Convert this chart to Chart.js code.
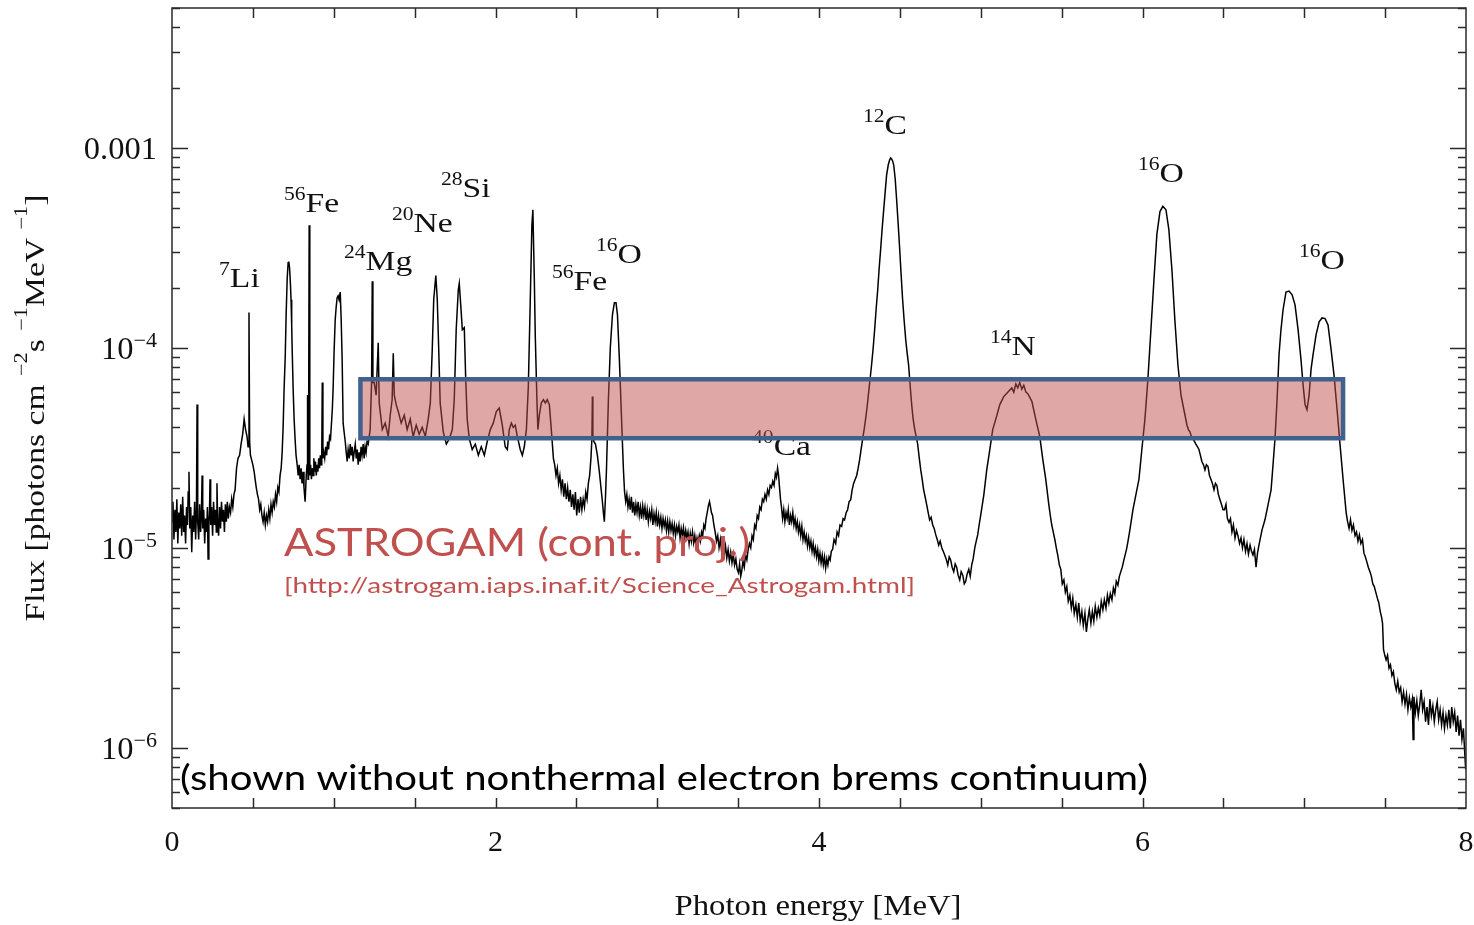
<!DOCTYPE html>
<html>
<head>
<meta charset="utf-8">
<script src="https://cdn.jsdelivr.net/npm/chart.js@4/dist/chart.umd.min.js"></script>
<style>
  html, body { margin: 0; padding: 0; background: #fff; }
  canvas { display: block; }
</style>
</head>
<body>
<canvas id="spectrum" width="1474" height="925"></canvas>
<script>
// gamma-ray line spectrum, energy in MeV, flux in photons cm^-2 s^-1 MeV^-1
// split in a few energy bands so each pair of arrays stays readable

// 0 - 0.5 MeV : noisy continuum, 7Li line
var bandE1 = [0.000,0.006,0.012,0.018,0.024,0.030,0.036,0.042,0.048,0.054,
              0.060,0.066,0.072,0.078,0.084,0.090,0.096,0.100,0.105,0.110,
              0.116,0.122,0.128,0.134,0.140,0.146,0.151,0.155,0.159,0.165,
              0.171,0.177,0.182,0.186,0.190,0.196,0.202,0.208,0.214,0.219,
              0.223,0.228,0.232,0.235,0.239,0.245,0.251,0.257,0.263,0.269,
              0.274,0.278,0.282,0.288,0.294,0.300,0.306,0.312,0.318,0.324,
              0.330,0.336,0.342,0.348,0.355,0.362,0.369,0.376,0.383,0.390,
              0.399,0.408,0.418,0.427,0.437,0.446,0.455,0.464,0.470,0.476,
              0.480,0.485,0.490];
var bandF1 = [1.35e-5,1.7e-5,1.1e-5,1.55e-5,1.2e-5,1.75e-5,1.05e-5,1.5e-5,1.25e-5,1.65e-5,
              1.15e-5,1.8e-5,1.2e-5,1.45e-5,1.05e-5,1.6e-5,1.3e-5,1.9e-5,2.4e-5,1.25e-5,
              1.6e-5,9.5e-6,1.45e-5,1.2e-5,1.7e-5,1.1e-5,1.5e-5,5.2e-5,1.35e-5,1.1e-5,
              1.65e-5,1.2e-5,1.5e-5,2.3e-5,1.25e-5,1.55e-5,1.05e-5,1.4e-5,1.2e-5,1.6e-5,
              8.8e-6,1.35e-5,1.55e-5,2.2e-5,1.3e-5,1.6e-5,1.15e-5,1.7e-5,1.3e-5,1.55e-5,
              1.2e-5,2.1e-5,1.4e-5,1.15e-5,1.6e-5,1.25e-5,1.7e-5,1.35e-5,1.55e-5,1.2e-5,
              1.65e-5,1.35e-5,1.7e-5,1.4e-5,1.6e-5,1.5e-5,1.75e-5,1.6e-5,1.85e-5,1.95e-5,
              2.5e-5,2.8e-5,2.9e-5,3.3e-5,3.7e-5,4.4e-5,3.9e-5,3.6e-5,3.2e-5,1.5e-4,
              3.4e-5,2.9e-5,2.8e-5];

// 0.5 - 1.2 MeV : 56Fe lines
var bandE2 = [0.500,0.508,0.514,0.521,0.528,0.535,0.542,0.549,0.556,0.563,
              0.570,0.577,0.584,0.591,0.598,0.605,0.612,0.619,0.626,0.633,
              0.640,0.647,0.654,0.661,0.668,0.675,0.681,0.687,0.693,0.700,
              0.706,0.712,0.718,0.722,0.727,0.732,0.736,0.740,0.743,0.749,
              0.755,0.761,0.767,0.774,0.780,0.786,0.792,0.798,0.804,0.810,
              0.816,0.823,0.830,0.835,0.838,0.841,0.844,0.848,0.852,0.857,
              0.862,0.867,0.872,0.877,0.882,0.887,0.892,0.897,0.902,0.907,
              0.912,0.917,0.922,0.926,0.929,0.933,0.938,0.944,0.950,0.956,
              0.962,0.968,0.974,0.980,0.986,0.991,0.996,1.002,1.009,1.015,
              1.021,1.027,1.033,1.040,1.046,1.052,1.058,1.064,1.071,1.077,
              1.083,1.089,1.096,1.102,1.108,1.114,1.120,1.126,1.133,1.139,
              1.145,1.151,1.157,1.163,1.169,1.175,1.182,1.188,1.194,1.200,1.206];
var bandF2 = [2.6e-5,2.4e-5,2.2e-5,2.0e-5,1.85e-5,1.75e-5,1.55e-5,1.65e-5,1.45e-5,1.35e-5,
              1.5e-5,1.3e-5,1.45e-5,1.35e-5,1.55e-5,1.4e-5,1.65e-5,1.5e-5,1.7e-5,1.6e-5,
              1.85e-5,1.7e-5,2.0e-5,1.9e-5,2.3e-5,2.5e-5,3.0e-5,4.0e-5,6.2e-5,9.0e-5,
              1.5e-4,2.2e-4,2.66e-4,2.7e-4,2.5e-4,2.1e-4,1.74e-4,1.3e-4,9.8e-5,6.2e-5,
              4.4e-5,3.5e-5,2.9e-5,2.6e-5,2.3e-5,2.6e-5,2.2e-5,2.5e-5,2.1e-5,2.4e-5,
              2.0e-5,1.7e-5,2.3e-5,2.6e-5,5.8e-5,2.2e-5,2.6e-5,4.1e-4,2.3e-5,2.6e-5,
              2.2e-5,2.5e-5,2.3e-5,2.8e-5,2.4e-5,2.7e-5,2.3e-5,2.6e-5,2.4e-5,2.8e-5,
              2.5e-5,2.9e-5,2.6e-5,3.0e-5,6.7e-5,2.8e-5,3.0e-5,2.8e-5,3.2e-5,2.9e-5,
              3.4e-5,3.1e-5,3.6e-5,3.5e-5,4.2e-5,4.9e-5,6.2e-5,9.5e-5,1.38e-4,1.6e-4,
              1.78e-4,1.82e-4,1.74e-4,1.9e-4,1.38e-4,8.7e-5,4.2e-5,3.8e-5,3.4e-5,3.0e-5,
              2.7e-5,3.1e-5,2.8e-5,3.3e-5,2.9e-5,3.2e-5,2.7e-5,3.0e-5,3.3e-5,2.8e-5,
              3.1e-5,2.6e-5,3.0e-5,2.7e-5,3.2e-5,2.9e-5,3.3e-5,2.8e-5,3.2e-5,3.0e-5,3.4e-5];

// 1.2 - 2.27 MeV : 24Mg, 20Ne, 28Si and the 2.22 MeV line
var bandE3 = [1.213,1.225,1.234,1.238,1.242,1.250,1.262,1.275,1.281,1.300,
              1.318,1.337,1.349,1.361,1.368,1.374,1.386,1.399,1.417,1.436,
              1.454,1.473,1.491,1.510,1.528,1.547,1.566,1.584,1.597,1.609,
              1.618,1.631,1.640,1.649,1.658,1.677,1.696,1.714,1.733,1.745,
              1.757,1.770,1.776,1.785,1.795,1.807,1.816,1.825,1.838,1.856,
              1.875,1.894,1.912,1.931,1.949,1.968,1.986,2.005,2.023,2.042,
              2.060,2.073,2.085,2.098,2.110,2.122,2.135,2.153,2.166,2.178,
              2.191,2.203,2.215,2.225,2.231,2.240,2.246,2.256,2.262];
var bandF3 = [3.3e-5,3.9e-5,6.7e-5,2.15e-4,6.7e-5,6.7e-5,5.8e-5,1.06e-4,5.3e-5,3.9e-5,
              4.2e-5,3.6e-5,4.6e-5,5.5e-5,9.4e-5,5.8e-5,5.2e-5,4.8e-5,4.2e-5,4.6e-5,
              3.9e-5,4.4e-5,3.6e-5,4.1e-5,3.7e-5,4.0e-5,3.6e-5,4.4e-5,5.3e-5,9.8e-5,
              1.74e-4,2.3e-4,1.74e-4,9.8e-5,5.3e-5,3.8e-5,3.3e-5,3.5e-5,3.9e-5,5.5e-5,
              1.23e-4,1.95e-4,2.1e-4,1.64e-4,1.23e-4,1.26e-4,6.9e-5,4.4e-5,3.5e-5,3.1e-5,
              3.3e-5,2.9e-5,3.2e-5,2.9e-5,3.4e-5,3.9e-5,4.2e-5,4.8e-5,5.0e-5,4.1e-5,
              3.2e-5,3.1e-5,3.9e-5,4.2e-5,4.0e-5,4.1e-5,3.6e-5,3.1e-5,2.9e-5,3.2e-5,
              3.9e-5,6.4e-5,1.74e-4,4.1e-4,4.9e-4,2.2e-4,1.14e-4,5.5e-5,3.9e-5];

// 2.27 - 3.5 MeV : 56Fe + 16O (2.74) and falling continuum
var bandE4 = [2.271,2.283,2.296,2.308,2.320,2.333,2.345,2.358,2.366,2.374,
              2.382,2.390,2.398,2.406,2.414,2.422,2.430,2.438,2.446,2.454,
              2.462,2.470,2.478,2.486,2.494,2.502,2.510,2.518,2.526,2.534,
              2.542,2.550,2.558,2.566,2.574,2.582,2.590,2.596,2.599,2.602,
              2.608,2.618,2.630,2.642,2.652,2.661,2.667,2.673,2.680,2.686,
              2.698,2.710,2.723,2.735,2.745,2.754,2.766,2.778,2.791,2.798,
              2.805,2.812,2.819,2.826,2.833,2.840,2.847,2.854,2.861,2.868,
              2.875,2.882,2.889,2.896,2.903,2.910,2.917,2.924,2.931,2.938,
              2.945,2.952,2.959,2.966,2.973,2.980,2.987,2.994,3.001,3.008,
              3.015,3.022,3.029,3.036,3.043,3.050,3.057,3.064,3.071,3.078,
              3.085,3.092,3.099,3.106,3.113,3.120,3.127,3.134,3.141,3.148,
              3.155,3.162,3.169,3.176,3.183,3.190,3.197,3.204,3.211,3.218,
              3.225,3.232,3.239,3.246,3.253,3.260,3.267,3.274,3.281,3.288,
              3.295,3.302,3.309,3.316,3.323,3.329,3.335,3.342,3.350,3.358,
              3.366,3.374,3.382,3.390,3.398,3.406,3.414,3.422,3.430,3.438,
              3.446,3.454,3.462,3.470,3.478,3.486,3.494];
var bandF4 = [4.6e-5,5.3e-5,5.5e-5,5.3e-5,5.5e-5,5.2e-5,3.9e-5,2.8e-5,2.6e-5,2.3e-5,
              2.5e-5,2.1e-5,2.3e-5,1.95e-5,2.2e-5,1.8e-5,2.1e-5,1.75e-5,2.0e-5,1.7e-5,
              1.95e-5,1.6e-5,1.85e-5,1.55e-5,1.9e-5,1.45e-5,1.75e-5,1.5e-5,1.8e-5,1.55e-5,
              1.75e-5,1.6e-5,1.9e-5,1.75e-5,2.1e-5,2.3e-5,2.8e-5,3.5e-5,5.7e-5,3.6e-5,
              3.4e-5,3.3e-5,2.9e-5,2.4e-5,2.0e-5,1.7e-5,1.5e-5,1.35e-5,1.8e-5,2.45e-5,
              5.5e-5,1.01e-4,1.46e-4,1.68e-4,1.68e-4,1.46e-4,8.7e-5,4.7e-5,2.45e-5,1.9e-5,
              1.7e-5,1.85e-5,1.6e-5,1.75e-5,1.55e-5,1.8e-5,1.5e-5,1.7e-5,1.45e-5,1.65e-5,
              1.5e-5,1.7e-5,1.45e-5,1.6e-5,1.4e-5,1.62e-5,1.45e-5,1.6e-5,1.38e-5,1.55e-5,
              1.35e-5,1.52e-5,1.4e-5,1.55e-5,1.3e-5,1.48e-5,1.35e-5,1.5e-5,1.28e-5,1.45e-5,
              1.3e-5,1.42e-5,1.25e-5,1.4e-5,1.28e-5,1.38e-5,1.22e-5,1.36e-5,1.2e-5,1.35e-5,
              1.22e-5,1.32e-5,1.18e-5,1.3e-5,1.15e-5,1.28e-5,1.2e-5,1.3e-5,1.12e-5,1.25e-5,
              1.15e-5,1.26e-5,1.1e-5,1.22e-5,1.12e-5,1.2e-5,1.05e-5,1.18e-5,1.08e-5,1.2e-5,
              1.06e-5,1.15e-5,1.02e-5,1.12e-5,1.05e-5,1.15e-5,1.08e-5,1.2e-5,1.15e-5,1.3e-5,
              1.25e-5,1.4e-5,1.5e-5,1.62e-5,1.7e-5,1.6e-5,1.5e-5,1.45e-5,1.3e-5,1.2e-5,
              1.08e-5,1.15e-5,1.0e-5,1.1e-5,9.6e-6,1.05e-5,9.2e-6,1.02e-5,8.9e-6,9.8e-6,
              8.6e-6,9.5e-6,8.4e-6,9.3e-6,8.2e-6,8.8e-6,7.8e-6];

// 3.5 - 5 MeV : 40Ca bump and the 12C line
var bandE5 = [3.502,3.509,3.516,3.522,3.530,3.538,3.546,3.554,3.562,3.570,
              3.578,3.586,3.594,3.602,3.610,3.618,3.626,3.634,3.642,3.650,
              3.658,3.666,3.674,3.682,3.690,3.698,3.706,3.714,3.722,3.730,
              3.737,3.744,3.750,3.756,3.762,3.768,3.775,3.782,3.789,3.796,
              3.803,3.810,3.817,3.824,3.831,3.838,3.845,3.852,3.859,3.866,
              3.873,3.880,3.887,3.894,3.901,3.908,3.915,3.922,3.929,3.936,
              3.943,3.950,3.957,3.964,3.971,3.978,3.985,3.992,3.999,4.006,
              4.013,4.020,4.027,4.034,4.041,4.048,4.055,4.062,4.069,4.076,
              4.084,4.093,4.103,4.112,4.121,4.130,4.140,4.149,4.158,4.168,
              4.177,4.186,4.196,4.205,4.214,4.224,4.233,4.242,4.251,4.260,
              4.270,4.279,4.288,4.298,4.307,4.316,4.325,4.335,4.344,4.353,
              4.363,4.372,4.381,4.390,4.400,4.409,4.418,4.428,4.437,4.443,
              4.449,4.455,4.462,4.471,4.480,4.490,4.499,4.508,4.517,4.527,
              4.536,4.545,4.554,4.564,4.573,4.582,4.592,4.601,4.610,4.619,
              4.629,4.638,4.647,4.656,4.666,4.675,4.684,4.693,4.703,4.712,
              4.722,4.731,4.740,4.749,4.759,4.768,4.777,4.786,4.796,4.805,
              4.814,4.823,4.833,4.842,4.851,4.860,4.870,4.879,4.889,4.898,
              4.907,4.916,4.926,4.935,4.944,4.953,4.963,4.972,4.981,4.990];
var bandF5 = [7.5e-6,8.3e-6,7.2e-6,7.6e-6,8.6e-6,8.0e-6,9.2e-6,8.7e-6,9.8e-6,1.05e-5,
              1.0e-5,1.15e-5,1.1e-5,1.3e-5,1.25e-5,1.45e-5,1.4e-5,1.6e-5,1.55e-5,1.75e-5,
              1.7e-5,1.85e-5,1.75e-5,1.95e-5,1.85e-5,2.05e-5,2.0e-5,2.15e-5,2.05e-5,2.35e-5,
              2.25e-5,2.5e-5,2.3e-5,2.0e-5,1.75e-5,1.6e-5,1.4e-5,1.55e-5,1.35e-5,1.5e-5,
              1.4e-5,1.55e-5,1.3e-5,1.45e-5,1.35e-5,1.5e-5,1.3e-5,1.4e-5,1.25e-5,1.35e-5,
              1.2e-5,1.3e-5,1.15e-5,1.28e-5,1.1e-5,1.2e-5,1.08e-5,1.15e-5,1.02e-5,1.12e-5,
              1.0e-5,1.08e-5,9.6e-6,1.05e-5,9.3e-6,1.0e-5,9.0e-6,9.8e-6,8.6e-6,9.4e-6,
              8.4e-6,9.2e-6,8.2e-6,9.0e-6,7.9e-6,8.8e-6,8.2e-6,9.0e-6,8.7e-6,9.6e-6,
              9.8e-6,1.1e-5,1.05e-5,1.2e-5,1.15e-5,1.3e-5,1.28e-5,1.4e-5,1.38e-5,1.5e-5,
              1.55e-5,1.7e-5,1.74e-5,1.95e-5,2.1e-5,2.2e-5,2.3e-5,2.5e-5,2.75e-5,3.1e-5,
              3.5e-5,3.9e-5,4.4e-5,5.1e-5,6.0e-5,7.0e-5,8.2e-5,1.0e-4,1.23e-4,1.55e-4,
              1.95e-4,2.5e-4,3.1e-4,3.9e-4,4.9e-4,6.0e-4,7.3e-4,8.2e-4,8.7e-4,8.9e-4,
              8.8e-4,8.6e-4,8.2e-4,7.0e-4,5.5e-4,4.1e-4,3.1e-4,2.3e-4,1.74e-4,1.35e-4,
              1.1e-4,9.4e-5,8.2e-5,6.4e-5,5.2e-5,4.4e-5,3.9e-5,3.6e-5,3.3e-5,2.85e-5,
              2.45e-5,2.2e-5,1.95e-5,1.8e-5,1.64e-5,1.5e-5,1.38e-5,1.42e-5,1.3e-5,1.25e-5,
              1.16e-5,1.1e-5,1.03e-5,1.08e-5,1.0e-5,9.6e-6,9.2e-6,8.8e-6,8.2e-6,9.0e-6,
              8.7e-6,8.0e-6,7.6e-6,8.3e-6,8.0e-6,7.3e-6,6.9e-6,7.6e-6,7.3e-6,6.6e-6,
              6.8e-6,7.4e-6,7.8e-6,7.2e-6,8.2e-6,8.8e-6,1.0e-5,1.08e-5,1.16e-5,1.3e-5];

// 5 - 6.5 MeV : 14N and 16O (6.13)
var bandE6 = [5.000,5.019,5.037,5.056,5.074,5.093,5.118,5.142,5.167,5.192,
              5.204,5.217,5.229,5.241,5.254,5.266,5.279,5.291,5.316,5.340,
              5.365,5.384,5.402,5.421,5.430,5.439,5.448,5.458,5.467,5.476,
              5.486,5.495,5.504,5.514,5.523,5.532,5.541,5.551,5.560,5.569,
              5.578,5.588,5.597,5.606,5.615,5.625,5.634,5.644,5.653,5.662,
              5.671,5.681,5.690,5.699,5.708,5.718,5.727,5.736,5.745,5.755,
              5.764,5.774,5.783,5.792,5.801,5.811,5.820,5.829,5.838,5.848,
              5.857,5.866,5.875,5.885,5.894,5.903,5.912,5.922,5.941,5.959,
              5.978,5.996,6.015,6.033,6.052,6.071,6.089,6.108,6.126,6.145,
              6.163,6.182,6.200,6.219,6.238,6.256,6.275,6.284,6.293,6.302,
              6.312,6.321,6.330,6.340,6.349,6.358,6.367,6.377,6.386,6.395,
              6.405,6.414,6.423,6.432,6.442,6.451,6.460,6.469,6.479,6.488,6.498];
var bandF6 = [1.46e-5,1.84e-5,2.45e-5,3.1e-5,3.9e-5,4.4e-5,5.2e-5,5.7e-5,6.0e-5,6.3e-5,
              6.0e-5,6.6e-5,6.3e-5,6.7e-5,6.2e-5,6.5e-5,6.0e-5,5.9e-5,5.4e-5,4.4e-5,
              3.6e-5,2.75e-5,2.2e-5,1.64e-5,1.45e-5,1.3e-5,1.2e-5,1.1e-5,1.0e-5,9.2e-6,
              8.2e-6,7.8e-6,6.6e-6,6.9e-6,6.0e-6,6.4e-6,5.4e-6,5.8e-6,5.0e-6,5.6e-6,
              4.7e-6,5.2e-6,4.5e-6,5.3e-6,4.3e-6,4.8e-6,4.1e-6,4.7e-6,3.8e-6,4.4e-6,
              4.9e-6,4.2e-6,4.8e-6,4.3e-6,5.1e-6,4.5e-6,5.0e-6,4.6e-6,5.4e-6,4.9e-6,
              5.5e-6,5.0e-6,5.8e-6,5.3e-6,5.9e-6,5.5e-6,6.3e-6,5.9e-6,6.8e-6,6.5e-6,
              7.2e-6,7.6e-6,8.0e-6,8.7e-6,9.3e-6,1.0e-5,1.1e-5,1.23e-5,1.55e-5,1.84e-5,
              2.2e-5,3.1e-5,4.4e-5,6.9e-5,1.23e-4,2.2e-4,3.7e-4,4.8e-4,5.1e-4,4.9e-4,
              3.9e-4,2.45e-4,1.38e-4,8.2e-5,5.8e-5,4.9e-5,4.1e-5,3.9e-5,3.8e-5,3.6e-5,
              3.5e-5,3.4e-5,3.3e-5,3.2e-5,3.1e-5,2.9e-5,2.7e-5,2.6e-5,2.45e-5,2.6e-5,
              2.55e-5,2.3e-5,2.2e-5,2.1e-5,1.95e-5,2.1e-5,2.05e-5,1.85e-5,1.74e-5,1.65e-5,1.55e-5];

// 6.5 - 8 MeV : 16O doublet (6.92 / 7.12) and the high-energy tail
var bandE7 = [6.507,6.516,6.525,6.535,6.544,6.553,6.562,6.572,6.581,6.590,
              6.600,6.609,6.618,6.627,6.637,6.646,6.655,6.665,6.674,6.683,
              6.692,6.702,6.711,6.720,6.739,6.757,6.776,6.795,6.807,6.819,
              6.832,6.844,6.856,6.869,6.887,6.906,6.925,6.943,6.962,6.980,
              6.993,7.005,7.017,7.030,7.042,7.054,7.073,7.092,7.110,7.129,
              7.147,7.166,7.184,7.203,7.221,7.240,7.259,7.268,7.277,7.286,
              7.295,7.304,7.314,7.323,7.332,7.341,7.350,7.360,7.369,7.378,
              7.387,7.396,7.406,7.415,7.424,7.433,7.442,7.452,7.461,7.470,
              7.478,7.484,7.490,7.498,7.506,7.515,7.524,7.533,7.542,7.551,
              7.560,7.569,7.578,7.587,7.596,7.605,7.614,7.623,7.632,7.641,
              7.650,7.659,7.668,7.673,7.678,7.687,7.696,7.705,7.714,7.723,
              7.732,7.741,7.750,7.759,7.768,7.777,7.786,7.795,7.804,7.813,
              7.822,7.831,7.840,7.849,7.858,7.867,7.876,7.885,7.894,7.903,
              7.912,7.921,7.930,7.939,7.948,7.957,7.966,7.975,7.984,7.992,7.998];
var bandF7 = [1.55e-5,1.65e-5,1.4e-5,1.34e-5,1.4e-5,1.2e-5,1.3e-5,1.12e-5,1.22e-5,1.15e-5,
              1.05e-5,1.12e-5,1.0e-5,1.1e-5,9.6e-6,1.05e-5,9.3e-6,1.03e-5,9.6e-6,9.2e-6,
              9.8e-6,8.0e-6,9.4e-6,1.03e-5,1.23e-5,1.38e-5,1.64e-5,1.95e-5,2.6e-5,3.5e-5,
              5.5e-5,9.2e-5,1.23e-4,1.55e-4,1.9e-4,1.92e-4,1.84e-4,1.64e-4,1.23e-4,8.7e-5,
              6.5e-5,5.2e-5,4.9e-5,5.8e-5,7.8e-5,9.2e-5,1.16e-4,1.35e-4,1.41e-4,1.4e-4,
              1.3e-4,9.8e-5,7.3e-5,4.9e-5,3.3e-5,2.2e-5,1.5e-5,1.35e-5,1.25e-5,1.38e-5,
              1.22e-5,1.3e-5,1.15e-5,1.2e-5,1.08e-5,1.16e-5,1.05e-5,1.1e-5,9.4e-6,9.0e-6,
              8.5e-6,8.0e-6,7.6e-6,7.2e-6,6.6e-6,6.4e-6,6.0e-6,5.6e-6,5.3e-6,4.8e-6,
              4.5e-6,4.2e-6,3.1e-6,2.9e-6,2.75e-6,2.9e-6,2.5e-6,2.6e-6,2.3e-6,2.4e-6,
              2.1e-6,1.95e-6,2.15e-6,1.9e-6,2.0e-6,1.7e-6,1.9e-6,1.65e-6,1.85e-6,1.55e-6,
              1.78e-6,1.6e-6,1.75e-6,1.1e-6,1.8e-6,1.5e-6,1.72e-6,1.45e-6,1.65e-6,1.95e-6,
              1.55e-6,1.7e-6,1.35e-6,1.6e-6,1.3e-6,1.75e-6,1.45e-6,1.62e-6,1.35e-6,1.55e-6,
              1.7e-6,1.38e-6,1.55e-6,1.3e-6,1.5e-6,1.25e-6,1.45e-6,1.3e-6,1.55e-6,1.25e-6,
              1.6e-6,1.35e-6,1.5e-6,1.2e-6,1.45e-6,1.15e-6,1.38e-6,1.1e-6,1.25e-6,9.5e-7,7.8e-7];

// line identifications: mass number, element, anchor (energy, flux)
var lineMass    = ['7', '56', '24', '20', '28', '56', '16', '40', '12', '14', '16', '16'];
var lineElement = ['Li','Fe', 'Mg', 'Ne', 'Si', 'Fe', 'O',  'Ca', 'C',  'N',  'O',  'O'];
var lineLabelE  = [0.291, 0.692, 1.063, 1.360, 1.663, 2.349, 2.621, 3.586, 4.272, 5.057, 5.972, 6.967];
var lineLabelF  = [2.02e-4, 4.79e-4, 2.45e-4, 3.8e-4, 5.69e-4, 1.95e-4, 2.66e-4, 2.92e-5, 1.17e-3, 9.2e-5, 6.76e-4, 2.48e-4];

// ASTROGAM projected continuum sensitivity band
var sensE = [1.165, 7.240];
var sensF = [3.53e-5, 6.96e-5];

// axes
var xRange = [0, 8];
var yRange = [5e-7, 5e-3];
var xTickLabels = [0, 2, 4, 6, 8];
var xMinorStep = 0.5;
var yDecades = [1e-6, 1e-5, 1e-4, 1e-3];
var yTickText = [['10', '^\u22126'], ['10', '^\u22125'], ['10', '^\u22124'], ['0.001']];

var energies = [].concat(bandE1, bandE2, bandE3, bandE4, bandE5, bandE6, bandE7);
var fluxes = [].concat(bandF1, bandF2, bandF3, bandF4, bandF5, bandF6, bandF7);
var points = energies.map(function (e, i) { return { x: e, y: fluxes[i] }; });

var SERIF = '"Liberation Serif", "Times New Roman", serif';
var SANS = 'Lato, "Open Sans", sans-serif';

// draws text made of plain and '^'-prefixed (superscript) pieces
function drawRich(ctx, segs, x, y, o) {
  var w = 0;
  var parts = segs.map(function (s) {
    var sup = s.charAt(0) === '^';
    var t = sup ? s.slice(1) : s;
    ctx.font = (sup ? o.supSize : o.size) + 'px ' + o.family;
    var pw = ctx.measureText(t).width;
    w += pw;
    return { t: t, sup: sup, pw: pw };
  });
  var sx = o.width ? o.width / w : (o.sx || 1);
  var total = w * sx;
  var start = o.align === 'right' ? -total : (o.align === 'center' ? -total / 2 : 0);
  ctx.save();
  ctx.translate(x, y);
  if (o.rotate) ctx.rotate(o.rotate);
  ctx.translate(start, 0);
  ctx.scale(sx, 1);
  ctx.fillStyle = o.color || '#000';
  ctx.textBaseline = 'alphabetic';
  ctx.textAlign = 'left';
  var cx = 0;
  parts.forEach(function (p) {
    ctx.font = (p.sup ? o.supSize : o.size) + 'px ' + o.family;
    ctx.fillText(p.t, cx, p.sup ? -o.rise : 0);
    cx += p.pw;
  });
  ctx.restore();
}

var decorations = {
  id: 'decorations',
  afterDatasetsDraw: function (chart) {
    var ctx = chart.ctx;
    var a = chart.chartArea;
    var xs = chart.scales.x, ys = chart.scales.y;

    // line labels
    lineMass.forEach(function (m, i) {
      drawRich(ctx, ['^' + m, lineElement[i]],
        xs.getPixelForValue(lineLabelE[i]), ys.getPixelForValue(lineLabelF[i]),
        { family: SERIF, size: 28, supSize: 18, rise: 12, sx: 1.2, color: '#111' });
    });

    // sensitivity band
    var bx0 = xs.getPixelForValue(sensE[0]), bx1 = xs.getPixelForValue(sensE[1]);
    var by0 = ys.getPixelForValue(sensF[1]), by1 = ys.getPixelForValue(sensF[0]);
    ctx.save();
    ctx.fillStyle = 'rgba(192, 80, 77, 0.5)';
    ctx.fillRect(bx0, by0, bx1 - bx0, by1 - by0);
    ctx.strokeStyle = '#40618e';
    ctx.lineWidth = 4.5;
    ctx.strokeRect(bx0, by0, bx1 - bx0, by1 - by0);
    ctx.restore();

    // frame with inward ticks on all four sides
    ctx.save();
    ctx.strokeStyle = '#2a2a2a';
    ctx.lineWidth = 1.5;
    ctx.strokeRect(a.left, a.top, a.right - a.left, a.bottom - a.top);
    ctx.beginPath();
    for (var v = xRange[0] + xMinorStep; v < xRange[1]; v += xMinorStep) {
      var px = Math.round(xs.getPixelForValue(v)) + 0.5;
      ctx.moveTo(px, a.bottom); ctx.lineTo(px, a.bottom - 10);
      ctx.moveTo(px, a.top); ctx.lineTo(px, a.top + 10);
    }
    for (var d = -7; d <= -3; d++) {
      for (var k = 1; k <= 9; k++) {
        var val = k * Math.pow(10, d);
        if (val < yRange[0] || val > yRange[1]) continue;
        var py = Math.round(ys.getPixelForValue(val)) + 0.5;
        var len = k === 1 ? 16 : 8;
        ctx.moveTo(a.left, py); ctx.lineTo(a.left + len, py);
        ctx.moveTo(a.right, py); ctx.lineTo(a.right - len, py);
      }
    }
    ctx.stroke();
    ctx.restore();

    // tick labels
    yDecades.forEach(function (val, i) {
      drawRich(ctx, yTickText[i], 157, ys.getPixelForValue(val) + 11,
        { family: SERIF, size: 31, supSize: 21, rise: 12, align: 'right', sx: 1.05, color: '#111' });
    });
    xTickLabels.forEach(function (val) {
      drawRich(ctx, [String(val)], xs.getPixelForValue(val), 851,
        { family: SERIF, size: 30, supSize: 20, rise: 0, align: 'center', color: '#111' });
    });

    // axis titles
    drawRich(ctx, ['Photon energy [MeV]'], 818, 915,
      { family: SERIF, size: 30, supSize: 20, rise: 0, align: 'center', width: 287, color: '#111' });
    drawRich(ctx, ['Flux [photons cm ', '^\u22122', 's ', '^\u22121', 'MeV ', '^\u22121', ']'], 44, 408,
      { family: SERIF, size: 27, supSize: 18, rise: 17, align: 'center', width: 427, rotate: -Math.PI / 2, color: '#111' });

    // notes
    drawRich(ctx, ['ASTROGAM (cont. proj.)'], 284, 556,
      { family: SANS, size: 39, align: 'left', width: 466, color: '#c0504d' });
    drawRich(ctx, ['[http://astrogam.iaps.inaf.it/Science_Astrogam.html]'], 284, 593,
      { family: SANS, size: 22, align: 'left', width: 631, color: '#c0504d' });
    drawRich(ctx, ['(shown without nonthermal electron brems continuum)'], 180, 790,
      { family: SANS, size: 35, align: 'left', width: 968, color: '#000' });
  }
};

new Chart(document.getElementById('spectrum'), {
  type: 'line',
  data: {
    datasets: [{
      data: points,
      borderColor: '#000',
      borderWidth: 1.5,
      pointRadius: 0,
      tension: 0,
      fill: false
    }]
  },
  options: {
    responsive: false,
    animation: false,
    events: [],
    layout: { padding: { top: 8, right: 8, left: 0, bottom: 0 } },
    plugins: { legend: { display: false }, tooltip: { enabled: false } },
    scales: {
      x: {
        type: 'linear', min: xRange[0], max: xRange[1],
        grid: { display: false }, border: { display: false }, ticks: { display: false },
        afterFit: function (s) { s.height = 117; }
      },
      y: {
        type: 'logarithmic', min: yRange[0], max: yRange[1],
        grid: { display: false }, border: { display: false }, ticks: { display: false },
        afterFit: function (s) { s.width = 172; }
      }
    }
  },
  plugins: [decorations]
});
</script>
</body>
</html>
